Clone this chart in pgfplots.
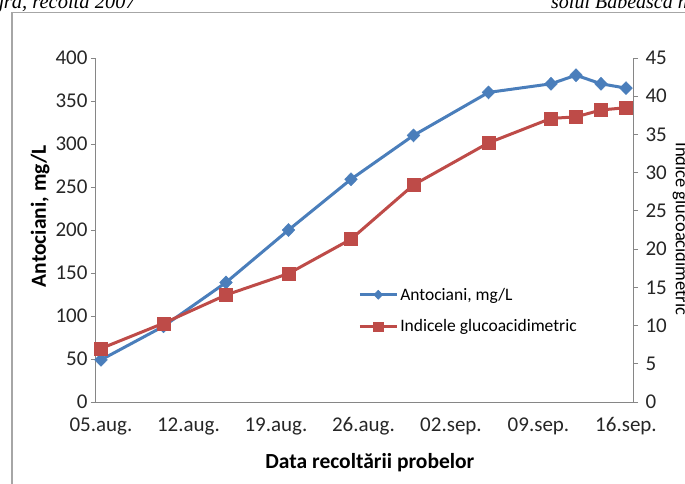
\documentclass[border=0pt]{standalone}
\usepackage{pgfplots}
\pgfplotsset{compat=1.18}
\usepackage{fontspec}
\setmainfont{Carlito}
\newfontfamily\hdr{Liberation Serif}
\definecolor{ablue}{HTML}{4A7EBB}
\definecolor{ared}{HTML}{BE4B48}
\definecolor{agrey}{HTML}{868686}
\pgfplotsset{
  common/.style={
    at={(96pt,-402pt)}, anchor=south west,
    scale only axis, width=537pt, height=344pt,
    xmin=-0.4, xmax=42.56, ymin=0,
    /pgf/number format/assume math mode=true,
    tick label style={font=\fontsize{21}{24}\selectfont, text=black!85},
    label style={font=\bfseries\fontsize{21.5}{24}\selectfont},
    axis line style={agrey, line width=1pt},
    major tick length=5pt,
    tick align=outside,
    ytick style={agrey, line width=0.8pt},
    xtick style={draw=none},
    clip=false,
  }
}
\begin{document}
\begin{tikzpicture}[x=1pt,y=1pt]
\useasboundingbox (0,0) rectangle (685,-484);
\clip (0,0) rectangle (685,-484);
\node[anchor=base east, font=\hdr\itshape\fontsize{20.5}{22}\selectfont, inner sep=0] at (136,-8.5) {neagră, recolta 2007};
\node[anchor=base west, font=\hdr\itshape\fontsize{20}{22}\selectfont, inner sep=0] at (551,-8.5) {soiul Băbească neagră};
\draw[gray!70, line width=1.2pt] (12,-484) -- (12,-12.5) -- (685,-12.5);

\begin{axis}[common,
  ymax=400, ytick={0,50,...,400},
  axis y line*=left, axis x line*=bottom,
  xtick={0,7,...,42},
  xticklabels={05.aug.,12.aug.,19.aug.,26.aug.,02.sep.,09.sep.,16.sep.},
  xticklabel style={yshift=-7pt},
  xlabel={Data recoltării probelor},
  ylabel={Antociani, mg/L},
  ylabel style={at={(axis description cs:-0.104,0.54)}, anchor=center},
  xlabel style={at={(axis description cs:0.51,-0.175)}, anchor=center},
]
\addplot[ablue, line width=3pt, mark=diamond*, mark size=6.5pt, mark options={solid, fill=ablue, draw=ablue, line width=0.5pt, xscale=1.3}]
  coordinates {(0,49) (5,88) (10,139) (15,200) (20,259) (25,310) (31,360) (36,370) (38,380) (40,370) (42,365)};
\end{axis}

\begin{axis}[common,
  ymax=45, ytick={0,5,...,45},
  axis y line*=right, axis x line=none,
  yticklabel style={xshift=4pt},
  ylabel={Indice glucoacidimetric},
  ylabel style={at={(axis description cs:1.089,0.503)}, anchor=center, rotate=180, font=\fontsize{18.5}{20}\selectfont},
  legend style={at={(axis description cs:0.488,0.338)}, anchor=north west, draw=none, fill=none,
    font=\fontsize{17.5}{20}\selectfont, row sep=14pt, inner sep=0pt},
  legend cell align=left,
  legend image code/.code={
    \draw[#1, mark=none] (0pt,0pt) -- (37pt,0pt);
    \draw[#1, line width=0.5pt, only marks, every mark/.append style={scale=0.7}] plot coordinates {(18.5pt,0pt)};
  },
]
\addlegendimage{ablue, line width=3pt, mark=diamond*, mark size=6.5pt, mark options={solid, fill=ablue, draw=ablue, line width=0.5pt, xscale=1.3}}
\addlegendentry{Antociani, mg/L}
\addplot[ared, line width=3pt, mark=square*, mark size=6.5pt, mark options={solid, fill=ared, draw=ared, line width=0.5pt}]
  coordinates {(0,7.0) (5,10.3) (10,14.0) (15,16.8) (20,21.3) (25,28.4) (31,33.9) (36,37.1) (38,37.3) (40,38.2) (42,38.5)};
\addlegendentry{Indicele glucoacidimetric}
\end{axis}
\end{tikzpicture}
\end{document}
